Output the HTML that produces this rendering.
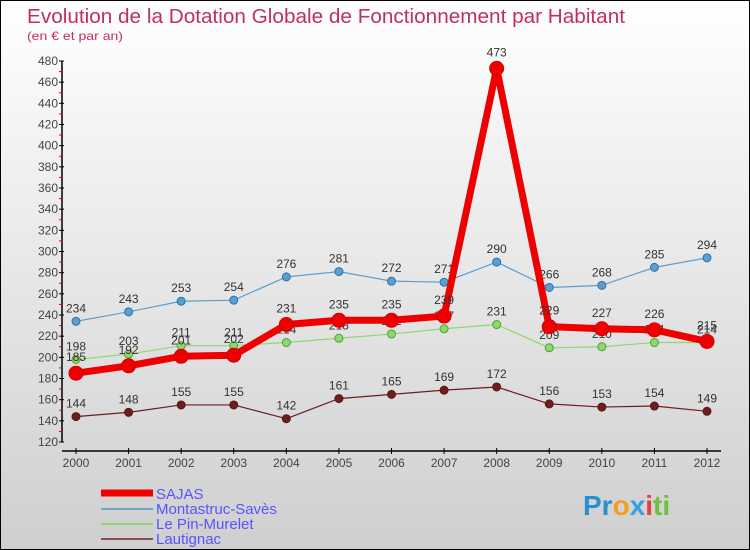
<!DOCTYPE html>
<html><head><meta charset="utf-8"><style>
body{margin:0}
#c{width:748px;height:548px;border:1px solid #000;background:linear-gradient(#fff,#cfcfcf);position:relative;overflow:hidden;font-family:"Liberation Sans",sans-serif}
</style></head><body>
<div id="c">
<svg id="s" width="748" height="548" style="position:absolute;left:0;top:0" font-family="Liberation Sans, sans-serif">
<text x="26" y="22" font-size="20" fill="#c0305a" textLength="598" lengthAdjust="spacingAndGlyphs">Evolution de la Dotation Globale de Fonctionnement par Habitant</text>
<text x="26" y="39" font-size="12" fill="#c0305a" textLength="96" lengthAdjust="spacingAndGlyphs">(en € et par an)</text>
<g id="axes"></g><g id="series"></g>
<g>
<line x1="100" y1="492" x2="152" y2="492" stroke="#e00" stroke-width="7"/>
<text x="155" y="498" font-size="15" fill="#5555ff">SAJAS</text>
<line x1="100" y1="508" x2="152" y2="508" stroke="#6aa6d0" stroke-width="2"/>
<text x="155" y="513" font-size="15" fill="#5555ff">Montastruc-Savès</text>
<line x1="100" y1="523" x2="152" y2="523" stroke="#8fd870" stroke-width="2"/>
<text x="155" y="528" font-size="15" fill="#5555ff">Le Pin-Murelet</text>
<line x1="100" y1="538" x2="152" y2="538" stroke="#8a5050" stroke-width="2"/>
<text x="155" y="543" font-size="15" fill="#5555ff">Lautignac</text>
</g>
<text x="582" y="514" font-size="28" font-weight="bold"><tspan fill="#2a8fd0">Pr</tspan><tspan fill="#f0a020">o</tspan><tspan fill="#3a9fe0">x</tspan><tspan fill="#e04040">i</tspan><tspan fill="#70c040">ti</tspan></text>
</svg>
</div>
<script>
const years=[2000,2001,2002,2003,2004,2005,2006,2007,2008,2009,2010,2011,2012];
const sajas=[185,192,201,202,231,235,235,239,473,229,227,226,215];
const montastruc=[234,243,253,254,276,281,272,271,290,266,268,285,294];
const lepin=[198,203,211,211,214,218,222,227,231,209,210,214,214];
const lautignac=[144,148,155,155,142,161,165,169,172,156,153,154,149];
const yTicks=[120,140,160,180,200,220,240,260,280,300,320,340,360,380,400,420,440,460,480];
const NS="http://www.w3.org/2000/svg";
const X=i=>75+i*(706-75)/12;
const Y=v=>441-(v-120)*(381/360);
function mk(t,a,p){const e=document.createElementNS(NS,t);for(const k in a)e.setAttribute(k,a[k]);p.appendChild(e);return e;}
const ax=document.getElementById('axes');
const ya=mk('line',{x1:61,y1:Y(480),x2:61,y2:Y(120),stroke:'#000','stroke-width':1.5},ax);


const xa=mk('line',{x1:61,y1:450,x2:720,y2:450,stroke:'#000','stroke-width':1.5},ax);


yTicks.forEach(v=>{
 mk('line',{x1:58,y1:Y(v),x2:63,y2:Y(v),stroke:'#000'},ax);
 if(v<480) mk('line',{x1:58,y1:Y(v+10),x2:61,y2:Y(v+10),stroke:'#e00'},ax);
 const t=mk('text',{x:57,y:Y(v)+4,'font-size':12,'text-anchor':'end',fill:'#444'},ax);
 t.textContent=v;
 
 
});
years.forEach((y,i)=>{
 mk('line',{x1:X(i),y1:447,x2:X(i),y2:453,stroke:'#000'},ax);
 const t=mk('text',{x:X(i),y:466,'font-size':12,'text-anchor':'middle',fill:'#444'},ax);
 t.textContent=y;
 
 
});
const sg=document.getElementById('series');
function series(vals,color,w,r,name,dotStroke){
 const g=mk('g',{},sg);
 
 
 mk('polyline',{points:vals.map((v,i)=>X(i)+','+Y(v)).join(' '),fill:'none',stroke:color,'stroke-width':w,'stroke-linejoin':'round'},g);
 vals.forEach((v,i)=>{
  const c=mk('circle',{cx:X(i),cy:Y(v),r:r,fill:color,stroke:dotStroke,'stroke-width':1},g);
  
  
  const t=mk('text',{x:X(i),y:Y(v)-(r+5),'font-size':12,'text-anchor':'middle',fill:'#333'},g);
  t.textContent=v;
  
  
 });
}
series(lautignac,'#6b1f1f',1.2,4,'lautignac','#5a1515');
series(montastruc,'#5a9fd0',1.2,4,'montastruc','#2a70b0');
series(lepin,'#8fd870',1.2,4,'le-pin','#50a030');
series(sajas,'#ee0000',7,7,'sajas','#d00000');
</script>
</body></html>
